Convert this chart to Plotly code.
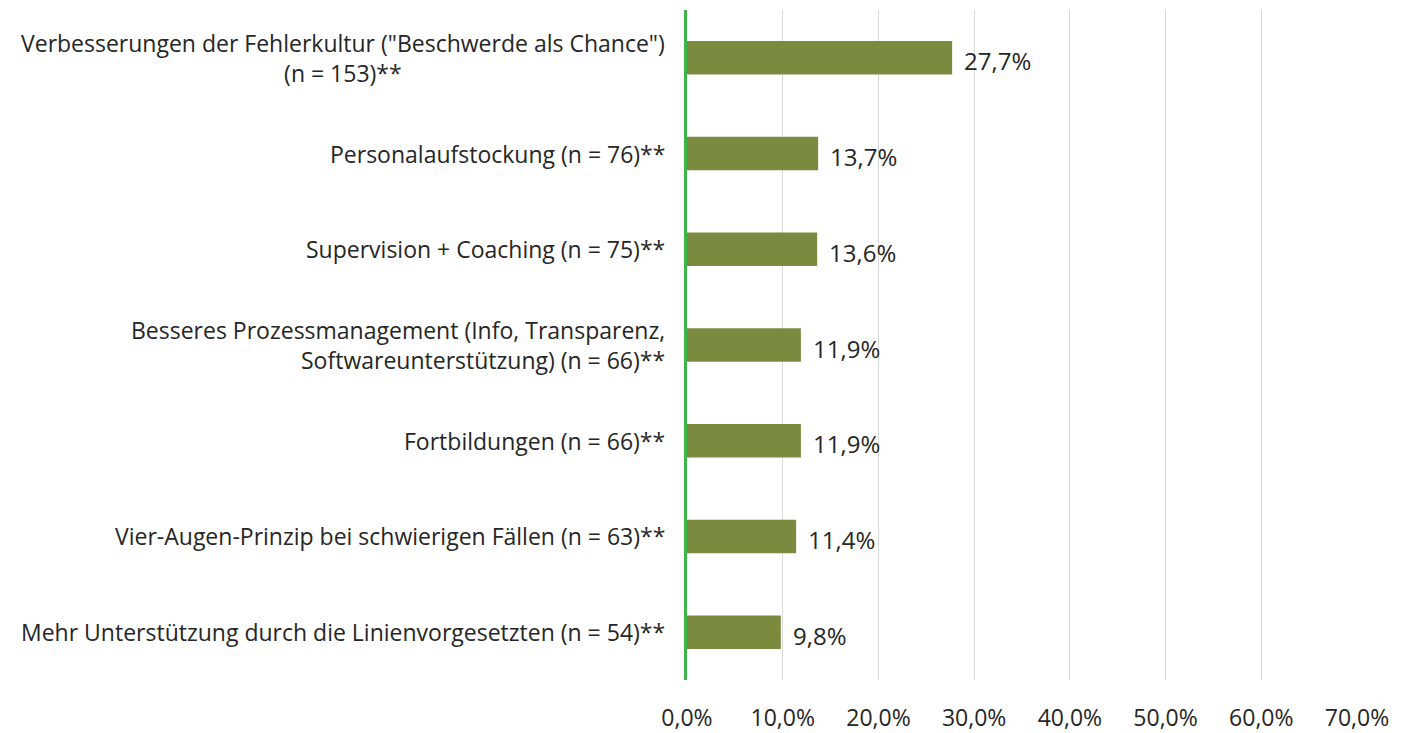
import plotly.graph_objects as go

categories = [
    'Verbesserungen der Fehlerkultur ("Beschwerde als Chance")<br>(n = 153)**',
    'Personalaufstockung (n = 76)**',
    'Supervision + Coaching (n = 75)**',
    'Besseres Prozessmanagement (Info, Transparenz,<br>Softwareunterstützung) (n = 66)**',
    'Fortbildungen (n = 66)**',
    'Vier-Augen-Prinzip bei schwierigen Fällen (n = 63)**',
    'Mehr Unterstützung durch die Linienvorgesetzten (n = 54)**',
]
values = [27.7, 13.7, 13.6, 11.9, 11.9, 11.4, 9.8]
value_labels = ["27,7%", "13,7%", "13,6%", "11,9%", "11,9%", "11,4%", "9,8%"]
tick_vals = [0, 10, 20, 30, 40, 50, 60, 70]
tick_text = ["0,0%", "10,0%", "20,0%", "30,0%", "40,0%", "50,0%", "60,0%", "70,0%"]
label_align = ["center", "right", "right", "right", "right", "right", "right"]

FONT = "Open Sans"
TXT = "#262626"

fig = go.Figure()
fig.add_trace(go.Bar(
    y=categories, x=values, orientation="h",
    marker=dict(color="#7A8B3F", line=dict(width=0)),
    width=0.35,
    cliponaxis=False,
))

for c, a in zip(categories, label_align):
    fig.add_annotation(
        x=0, xref="paper", y=c, yref="y",
        text=c, showarrow=False, xanchor="right", xshift=-20,
        align=a, font=dict(family=FONT, size=23, color=TXT),
    )

for c, v, t in zip(categories, values, value_labels):
    fig.add_annotation(
        x=v, xref="x", y=c, yref="y",
        text=t, showarrow=False, xanchor="left", xshift=10, yshift=-3,
        font=dict(family=FONT, size=24, color=TXT),
    )

# page body has an 8px margin: shrink the figure so it fits the 1409x733 window
fig.update_layout(
    width=1401, height=725,
    margin=dict(l=679, r=52, t=2, b=53),
    plot_bgcolor="white", paper_bgcolor="white",
    showlegend=False,
)
fig.update_xaxes(
    range=[0, 70], tickvals=tick_vals, ticktext=tick_text,
    showgrid=True, gridcolor="#D9D9D9", gridwidth=1,
    zeroline=False, showline=False, automargin=False,
    ticks="", ticklabelstandoff=22,
    tickfont=dict(family=FONT, size=23, color=TXT),
)
fig.update_yaxes(
    categoryorder="array", categoryarray=categories[::-1],
    showticklabels=False, showgrid=False, zeroline=False, automargin=False,
    showline=True, linecolor="#3DB54A", linewidth=2.5,
)

fig.write_html("out.html")
